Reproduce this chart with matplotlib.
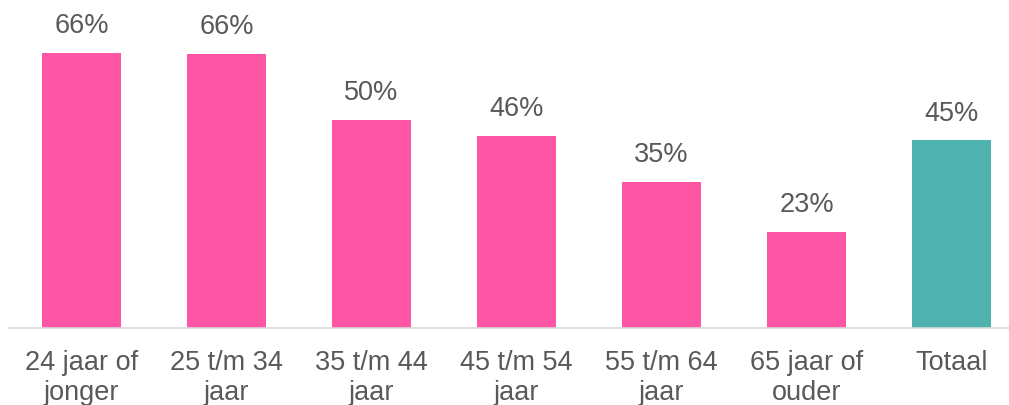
import matplotlib.pyplot as plt
import numpy as np

plt.rcParams['font.family'] = ['Liberation Sans', 'DejaVu Sans']

categories = ['24 jaar of\njonger', '25 t/m 34\njaar', '35 t/m 44\njaar', '45 t/m 54\njaar',
              '55 t/m 64\njaar', '65 jaar of\nouder', 'Totaal']
values = [66, 65.8, 50, 46, 35, 23, 45]
shown_values = [66, 66, 50, 46, 35, 23, 45]
colors = ['#FF55A5'] * 6 + ['#4EB2AF']

fig = plt.figure(figsize=(10.09, 4.05), dpi=100)
ax = fig.add_axes([9 / 1009, 77 / 405, 1015 / 1009, 328 / 405])

ind = np.arange(len(categories))
rects = ax.bar(ind, values, 0.545, color=colors)

for rect, v in zip(rects, shown_values):
    ax.annotate('%d%%' % v, (rect.get_x() + rect.get_width() / 2, rect.get_height()),
                xytext=(0, 10), textcoords='offset points',
                ha='center', va='bottom', fontsize=19.5, color='#595959')

ax.set_xlim(-0.5, 6.5)
ax.set_ylim(0, 78.7)
ax.set_xticks(ind)
ax.set_xticklabels(categories, fontsize=19.5, color='#595959', linespacing=1.2)
ax.tick_params(axis='x', length=0, pad=16)
ax.set_yticks([])
for s in ['top', 'right', 'left']:
    ax.spines[s].set_visible(False)
ax.spines['bottom'].set_color('#D9D9D9')
ax.spines['bottom'].set_linewidth(1.2)

fig.savefig('out.png', dpi=100)
